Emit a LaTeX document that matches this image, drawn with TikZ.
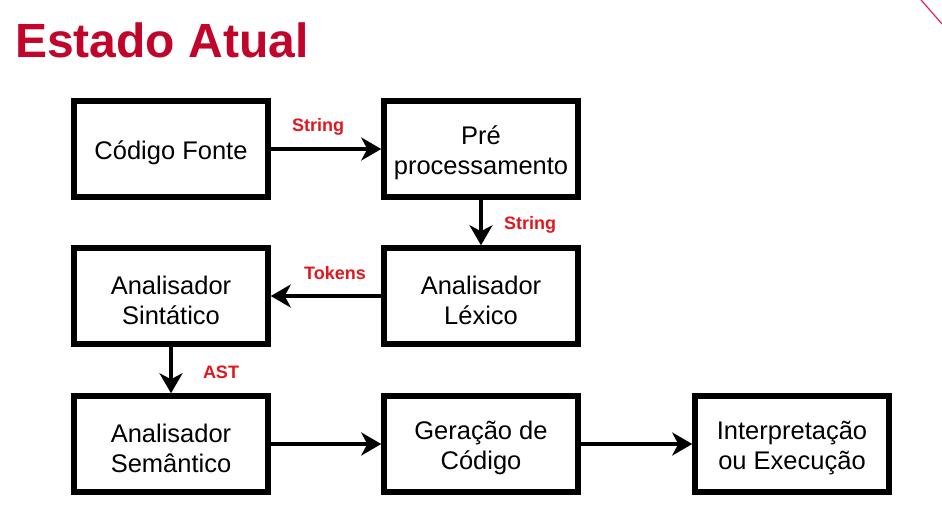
\documentclass[tikz,border=0pt]{standalone}
\usepackage{fontspec}
\setmainfont{Liberation Sans}
\usetikzlibrary{arrows.meta}
\definecolor{titlered}{HTML}{C0042A}
\definecolor{labred}{HTML}{E2171E}
\definecolor{cornerred}{HTML}{D8285A}
\tikzset{
  stagebox/.style={draw=black, line width=5.5pt, fill=white, minimum width=194pt, minimum height=96pt, inner sep=0pt},
  boxtext/.style={align=center, inner sep=0pt, font=\fontsize{25.5}{30}\selectfont},
  flow/.style={line width=4pt, -{Stealth[length=20pt,width=23pt,inset=6pt]}},
  lab/.style={text=labred, font=\fontsize{18}{20}\selectfont\bfseries, inner sep=0pt},
}
\newcommand{\stagetext}[2]{\node[boxtext] (#1t) at ([yshift=-4pt]#1.center) {#2};}
\begin{document}
\begin{tikzpicture}[x=1pt,y=-1pt]
\useasboundingbox (0,0) rectangle (942,528);
\node[anchor=base west, text=titlered, font=\fontsize{48}{50}\selectfont\bfseries, inner sep=0pt] (title) at (15,57) {Estado Atual};
\draw[cornerred, line width=1.2pt] (921,0) .. controls (929,9) .. (942,24);

\node[stagebox] (cf) at (171,149) {};
\node[stagebox] (pre) at (481,149) {};
\node[stagebox] (lex) at (481,296) {};
\node[stagebox] (sin) at (171,296) {};
\node[stagebox] (sem) at (171,444) {};
\node[stagebox] (ger) at (481,444) {};
\node[stagebox] (int) at (792,444) {};

\stagetext{cf}{Código Fonte}
\stagetext{pre}{Pré\\processamento}
\stagetext{lex}{Analisador\\Léxico}
\stagetext{sin}{Analisador\\Sintático}
\stagetext{sem}{Analisador\\Semântico}
\stagetext{ger}{Geração de\\Código}
\stagetext{int}{Interpretação\\ou Execução}

\draw[flow] (cf) -- (pre);
\draw[flow] (pre) -- (lex);
\draw[flow] (lex) -- (sin);
\draw[flow] (sin) -- (sem);
\draw[flow] (sem) -- (ger);
\draw[flow] (ger) -- (int);

\node[lab] (l1) at (318,127) {String};
\node[lab] (l2) at (530,225) {String};
\node[lab] (l3) at (335,273) {Tokens};
\node[lab] (l4) at (221,372) {AST};
\end{tikzpicture}
\end{document}
